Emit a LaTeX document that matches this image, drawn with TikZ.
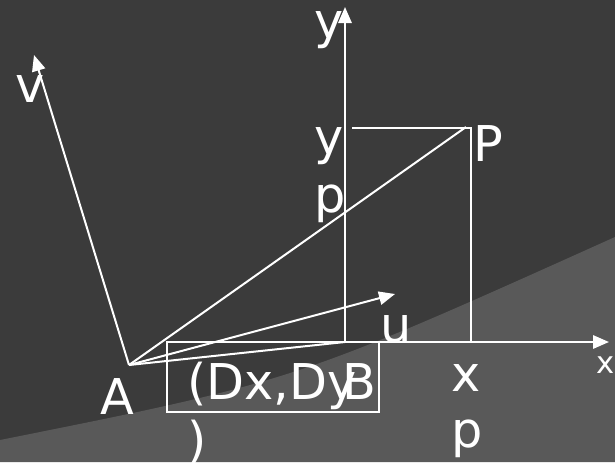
\documentclass[tikz,border=0pt]{standalone}
\usepackage{fontspec}
\setmainfont{DejaVu Sans}
\usetikzlibrary{arrows.meta}
\definecolor{bgdark}{HTML}{3B3B3B}
\definecolor{bglight}{HTML}{595959}
\tikzset{
  ln/.style={draw=white, line width=1.5pt},
  arr/.style={ln, -{Triangle[length=12pt,width=10pt]}},
  lbl/.style={text=white, font=\fontsize{37}{44}\selectfont, inner sep=0pt, anchor=base west},
  smalllbl/.style={text=white, font=\fontsize{23}{28}\selectfont, inner sep=0pt, anchor=base west},
}
\begin{document}
\begin{tikzpicture}[x=0.75pt, y=-0.75pt]
\useasboundingbox (0,0) rectangle (615,462);
\fill[bgdark] (0,0) rectangle (615,462);
\fill[bglight] (0,440) .. controls (295,381) .. (615,237) -- (615,462) -- (0,462) -- cycle;
% points
\coordinate (A) at (129,365);
\coordinate (O) at (345,342);
\coordinate (vtip) at (34,55);
\coordinate (utip) at (395,294);
\coordinate (ytip) at (345,7);
\coordinate (xtip) at (609,342);
\coordinate (P) at (466,127);
\coordinate (Pc) at (471,128);
\coordinate (Pfoot) at (471,342);
\coordinate (yl) at (352,128);
% lines
\draw[arr] (A) -- (vtip);
\draw[arr] (O) -- (ytip);
\draw[arr] (O) -- (xtip);
\draw[arr] (A) -- (utip);
\draw[ln] (A) -- (P);
\draw[ln] (A) -- (O);
\draw[ln] (yl) -- (Pc) -- (Pfoot);
\draw[draw=white, line width=1.3pt] (167,342) rectangle (379,412);
% labels
\node[lbl] (ylab) at (314,38) {y};
\node[lbl] (vlab) at (15,102) {v};
\node[lbl] (yp1) at (314,154) {y};
\node[lbl] (yp2) at (314,212) {p};
\node[lbl] (Plab) at (473,161) {P};
\node[lbl] (ulab) at (380,342) {u};
\node[lbl] (Alab) at (100,414) {A};
\node[lbl] (dlab) at (187,399) {(Dx,Dy};
\node[lbl] (dlab2) at (187,457) {)};
\node[lbl] (Blab) at (342,399) {B};
\node[lbl] (xp1) at (451,391) {x};
\node[lbl] (xp2) at (451,447) {p};
\node[smalllbl] (xlab) at (596,373) {x};
\end{tikzpicture}
\end{document}
